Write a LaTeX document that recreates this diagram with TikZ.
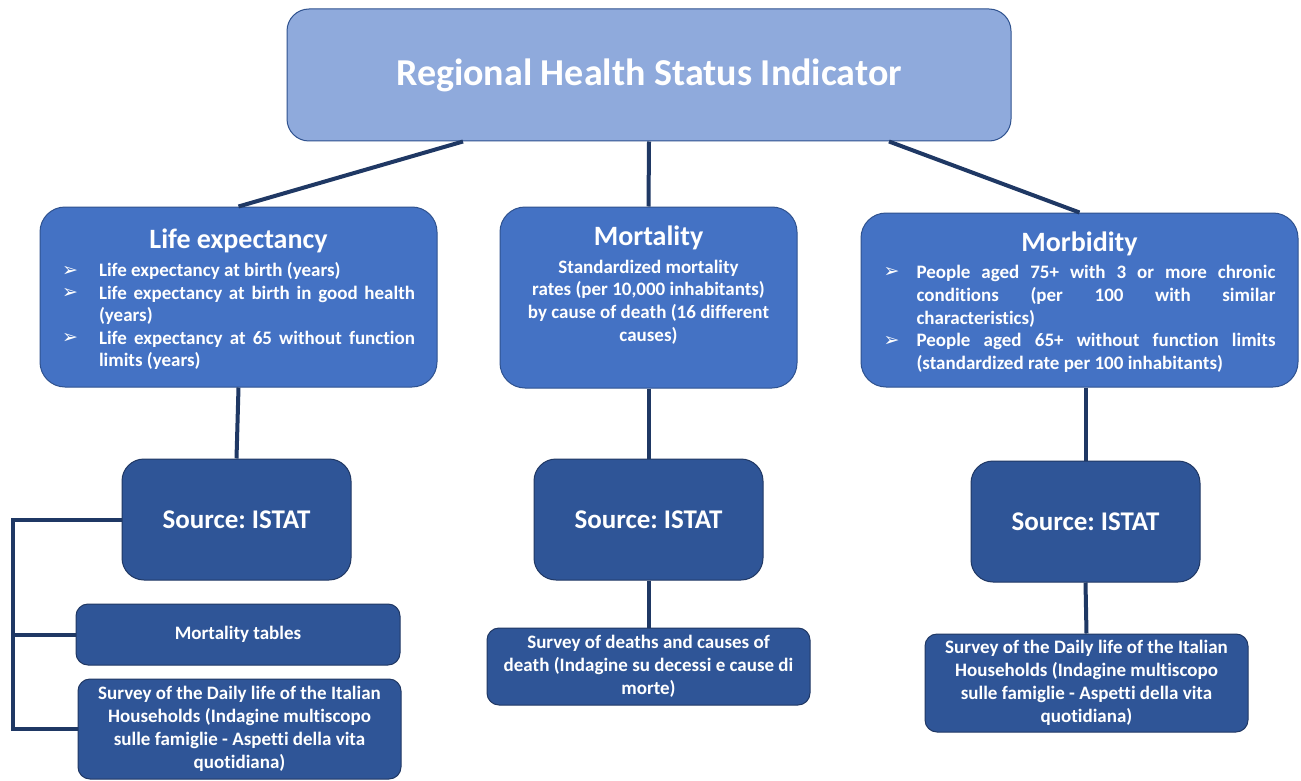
\documentclass[tikz,border=0pt]{standalone}
\usepackage{fontspec}
\setmainfont{Carlito}[Ligatures=NoCommon]
\newfontfamily\arrowfont{DejaVu Sans}
\usetikzlibrary{calc}
\definecolor{titlefill}{HTML}{8FAADC}
\definecolor{lvlfill}{HTML}{4472C4}
\definecolor{srcfill}{HTML}{2F5597}
\definecolor{boxline}{HTML}{2F528F}
\definecolor{srcline}{HTML}{203864}
\definecolor{linkcol}{HTML}{1F3864}
\newcommand{\hdfont}{\bfseries\fontsize{28}{28}\selectfont}
\newcommand{\bdfont}{\bfseries\fontsize{19}{22.5}\selectfont}
\newcommand{\bul}[2]{\par\noindent\hangindent=#1\hangafter=1\makebox[#1][l]{\raisebox{0.5pt}{\arrowfont\fontsize{19}{19}\selectfont\char"27A2}}#2}
\hbadness=10000
\tolerance=10000
\hyphenpenalty=10000
\exhyphenpenalty=10000
\frenchspacing
\begin{document}
\begin{tikzpicture}[x=1pt,y=-1pt,
  titlebox/.style={draw=boxline,line width=1pt,fill=titlefill,rounded corners=22pt,inner sep=0pt,text=white},
  lvlbox/.style={draw=boxline,line width=1pt,fill=lvlfill,rounded corners=25pt,inner sep=0pt,text=white},
  srcbox/.style={draw=srcline,line width=1pt,fill=srcfill,rounded corners=22pt,inner sep=0pt,text=white,font=\bfseries\fontsize{27}{30}\selectfont},
  survbox/.style={draw=srcline,line width=1pt,fill=srcfill,rounded corners=12pt,inner sep=0pt,text=white,align=center,font=\bfseries\fontsize{19}{22.8}\selectfont},
  link/.style={draw=linkcol,line width=4pt}]
\fill[white] (0,0) rectangle (1301,781);
\useasboundingbox (0,0) rectangle (1301,781);

% top
\node[titlebox,minimum width=724pt,minimum height=132pt] (top) at (649,75)
  {\bfseries\fontsize{38}{44}\selectfont Regional Health Status Indicator};

% level 2
\node[lvlbox,minimum width=397pt,minimum height=180pt] (life) at (238.5,297)
  {\begin{minipage}[c][136pt][t]{353pt}\frenchspacing\lineskiplimit=-100pt\parindent=0pt
   {\centering\hdfont Life expectancy\par}\vspace{5.5pt}\bdfont
   \bul{37pt}{Life expectancy at birth (years)}
   \bul{37pt}{Life expectancy at birth in good health \linebreak (years)}
   \bul{37pt}{Life expectancy at 65 without function \linebreak limits (years)}\par
   \end{minipage}};

\node[lvlbox,minimum width=297pt,minimum height=181pt] (mort) at (648.5,297.5)
  {\begin{minipage}[c][143pt][t]{285pt}\frenchspacing\lineskiplimit=-100pt\parindent=0pt\centering
   {\hdfont Mortality\par}\vspace{4.7pt}\bfseries\fontsize{19}{22.8}\selectfont
   Standardized mortality\\
   rates (per 10,000 inhabitants)\\
   by cause of death (16 different\\
   causes)\par
   \end{minipage}};

\node[lvlbox,minimum width=437pt,minimum height=174pt] (morb) at (1079.5,300)
  {\begin{minipage}[c][136pt][t]{392pt}\frenchspacing\lineskiplimit=-100pt\parindent=0pt
   {\centering\hdfont Morbidity\par}\vspace{4pt}\bfseries\fontsize{19}{22.8}\selectfont
   \bul{33pt}{People aged 75+ with 3 or more chronic \linebreak conditions (per 100 with similar \linebreak characteristics)}
   \bul{33pt}{People aged 65+ without function limits \linebreak (standardized rate per 100 inhabitants)}\par
   \end{minipage}};

% sources
\node[srcbox,minimum width=229pt,minimum height=121pt] (src1) at (236.5,519.5) {Source: ISTAT};
\node[srcbox,minimum width=229pt,minimum height=121pt] (src2) at (648.5,519.5) {Source: ISTAT};
\node[srcbox,minimum width=229pt,minimum height=121pt] (src3) at (1085.5,521.5) {Source: ISTAT};

% surveys
\node[survbox,minimum width=324pt,minimum height=61pt] (mtab) at (238,634.5) {Mortality tables};
\node[survbox,minimum width=323pt,minimum height=100pt] (surv1) at (239.5,729)
  {Survey of the Daily life of the Italian\\Households (Indagine multiscopo\\sulle famiglie - Aspetti della vita\\quotidiana)};
\node[survbox,minimum width=323pt,minimum height=77pt] (surv2) at (648.5,666.5)
  {Survey of deaths and causes of\\death (Indagine su decessi e cause di\\morte)};
\node[survbox,minimum width=323pt,minimum height=98pt] (surv3) at (1086.5,683)
  {Survey of the Daily life of the Italian\\Households (Indagine multiscopo\\sulle famiglie - Aspetti della vita\\quotidiana)};

% connectors
\draw[link] ([xshift=-186pt]top.south) -- (life.north);
\draw[link] (top.south) -- (mort.north);
\draw[link] ([xshift=240pt]top.south) -- (morb.north);
\draw[link] (life.south) -- (src1.north);
\draw[link] (mort.south) -- (src2.north);
\draw[link] (morb.south -| src3.north) -- (src3.north);
\draw[link] (src2.south) -- (surv2.north);
\draw[link] (src3.south) -- (surv3.north);
\coordinate (bx) at (13,519);
\draw[link] (src1.west) -- (src1.west -| bx) |- (surv1.west);
\draw[link] (bx |- mtab.west) -- (mtab.west);
\end{tikzpicture}
\end{document}
